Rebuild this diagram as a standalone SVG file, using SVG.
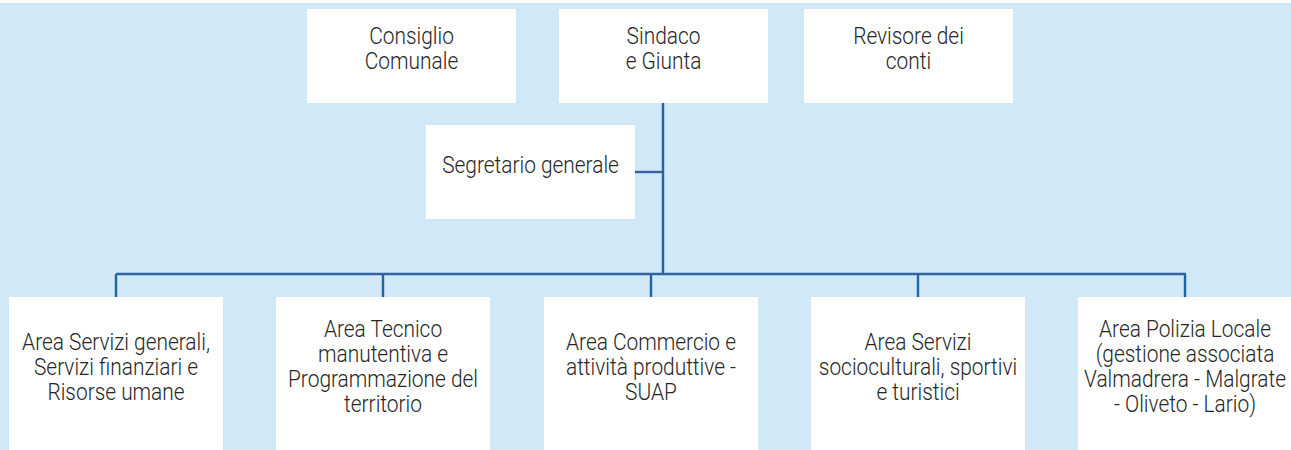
<svg xmlns="http://www.w3.org/2000/svg" width="1291" height="450" viewBox="0 0 1291 450">
<style>
.box{fill:#ffffff}
.t{font-family:Roboto,"Liberation Sans",sans-serif;font-weight:300;font-size:24px;fill:#262626;text-anchor:middle}
.v{stroke:#1d66a5;stroke-width:2.4;fill:none}
.h{stroke:#3361a3;stroke-width:2.4;fill:none}
</style>
<rect x="0" y="3" width="1291" height="447" fill="#d1e8f7"/>
<g id="connectors">
<path class="v" d="M663,103V274"/>
<path class="h" d="M634,172H663"/>
<path class="h" d="M116,274H1186"/>
<path class="v" d="M116,274V297M383,274V297M651,274V297M918,274V297M1185,274V297"/>
</g>
<g id="consiglio">
<rect class="box" x="307" y="9" width="209" height="94"/>
<text class="t" transform="matrix(0.87 0 0 1 411.5 0)"><tspan x="0" y="44">Consiglio</tspan><tspan x="0" y="69">Comunale</tspan></text>
</g>
<g id="sindaco">
<rect class="box" x="559" y="9" width="209" height="94"/>
<text class="t" transform="matrix(0.87 0 0 1 663.5 0)"><tspan x="0" y="44">Sindaco</tspan><tspan x="0" y="69">e Giunta</tspan></text>
</g>
<g id="revisore">
<rect class="box" x="804" y="9" width="209" height="94"/>
<text class="t" transform="matrix(0.87 0 0 1 908.5 0)"><tspan x="0" y="44">Revisore dei</tspan><tspan x="0" y="69">conti</tspan></text>
</g>
<g id="segretario">
<rect class="box" x="426" y="125" width="209" height="94"/>
<text class="t" transform="matrix(0.87 0 0 1 530.5 0)"><tspan x="0" y="173">Segretario generale</tspan></text>
</g>
<g id="area1">
<rect class="box" x="9" y="297" width="214" height="154"/>
<text class="t" transform="matrix(0.87 0 0 1 116 0)"><tspan x="0" y="350">Area Servizi generali,</tspan><tspan x="0" y="375">Servizi finanziari e</tspan><tspan x="0" y="400">Risorse umane</tspan></text>
</g>
<g id="area2">
<rect class="box" x="276" y="297" width="214" height="154"/>
<text class="t" transform="matrix(0.87 0 0 1 383 0)"><tspan x="0" y="337.5">Area Tecnico</tspan><tspan x="0" y="362.5">manutentiva e</tspan><tspan x="0" y="387.5">Programmazione del</tspan><tspan x="0" y="412.5">territorio</tspan></text>
</g>
<g id="area3">
<rect class="box" x="544" y="297" width="214" height="154"/>
<text class="t" transform="matrix(0.87 0 0 1 651 0)"><tspan x="0" y="350">Area Commercio e</tspan><tspan x="0" y="375">attività produttive -</tspan><tspan x="0" y="400">SUAP</tspan></text>
</g>
<g id="area4">
<rect class="box" x="811" y="297" width="214" height="154"/>
<text class="t" transform="matrix(0.87 0 0 1 918 0)"><tspan x="0" y="350">Area Servizi</tspan><tspan x="0" y="375">socioculturali, sportivi</tspan><tspan x="0" y="400">e turistici</tspan></text>
</g>
<g id="area5">
<rect class="box" x="1078" y="297" width="214" height="154"/>
<text class="t" transform="matrix(0.87 0 0 1 1185 0)"><tspan x="0" y="337.5">Area Polizia Locale</tspan><tspan x="0" y="362.5">(gestione associata</tspan><tspan x="0" y="387.5">Valmadrera - Malgrate</tspan><tspan x="0" y="412.5">- Oliveto - Lario)</tspan></text>
</g>
</svg>
